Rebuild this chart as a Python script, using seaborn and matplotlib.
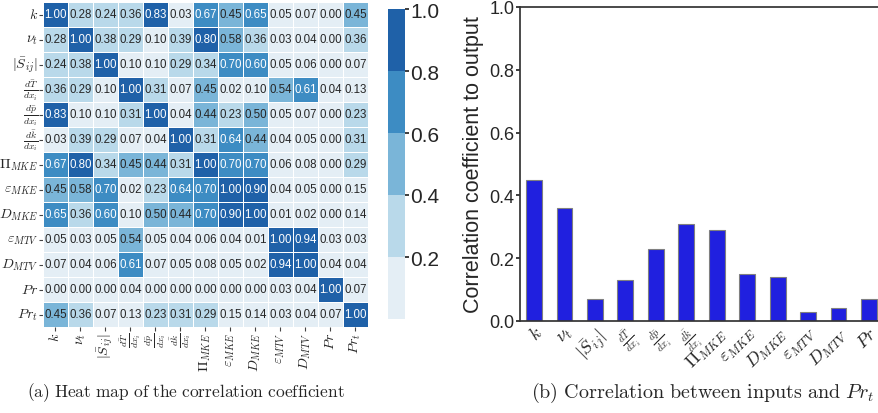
import numpy as np
import pandas as pd
import seaborn as sns
import matplotlib.pyplot as plt
from matplotlib.colors import ListedColormap

# labels of the input features and the output
features = [r'$k$', r'$\nu_t$', r'$|\bar{S}_{ij}|$', r'$\frac{d\bar{T}}{dx_i}$',
            r'$\frac{d\bar{p}}{dx_i}$', r'$\frac{d\bar{k}}{dx_i}$', r'$\Pi_{MKE}$',
            r'$\varepsilon_{MKE}$', r'$D_{MKE}$', r'$\varepsilon_{MTV}$', r'$D_{MTV}$',
            r'$Pr$', r'$Pr_t$']

# correlation matrix read row by row
corr_rows = [
    [1.00, 0.28, 0.24, 0.36, 0.83, 0.03, 0.67, 0.45, 0.65, 0.05, 0.07, 0.00, 0.45],
    [0.28, 1.00, 0.38, 0.29, 0.10, 0.39, 0.80, 0.58, 0.36, 0.03, 0.04, 0.00, 0.36],
    [0.24, 0.38, 1.00, 0.10, 0.10, 0.29, 0.34, 0.70, 0.60, 0.05, 0.06, 0.00, 0.07],
    [0.36, 0.29, 0.10, 1.00, 0.31, 0.07, 0.45, 0.02, 0.10, 0.54, 0.61, 0.04, 0.13],
    [0.83, 0.10, 0.10, 0.31, 1.00, 0.04, 0.44, 0.23, 0.50, 0.05, 0.07, 0.00, 0.23],
    [0.03, 0.39, 0.29, 0.07, 0.04, 1.00, 0.31, 0.64, 0.44, 0.04, 0.05, 0.00, 0.31],
    [0.67, 0.80, 0.34, 0.45, 0.44, 0.31, 1.00, 0.70, 0.70, 0.06, 0.08, 0.00, 0.29],
    [0.45, 0.58, 0.70, 0.02, 0.23, 0.64, 0.70, 1.00, 0.90, 0.04, 0.05, 0.00, 0.15],
    [0.65, 0.36, 0.60, 0.10, 0.50, 0.44, 0.70, 0.90, 1.00, 0.01, 0.02, 0.00, 0.14],
    [0.05, 0.03, 0.05, 0.54, 0.05, 0.04, 0.06, 0.04, 0.01, 1.00, 0.94, 0.03, 0.03],
    [0.07, 0.04, 0.06, 0.61, 0.07, 0.05, 0.08, 0.05, 0.02, 0.94, 1.00, 0.04, 0.04],
    [0.00, 0.00, 0.00, 0.04, 0.00, 0.00, 0.00, 0.00, 0.00, 0.03, 0.04, 1.00, 0.07],
    [0.45, 0.36, 0.07, 0.13, 0.23, 0.31, 0.29, 0.15, 0.14, 0.03, 0.04, 0.07, 1.00],
]

# correlation of each input with Pr_t (last row without itself)
bar_labels = features[:-1]
bar_values = corr_rows[-1][:-1]

# 5 discrete blues for the heat map
blues = ['#e4eef5', '#b9d9ea', '#7ab5d8', '#3d8cc3', '#1f61a8']

sns.set_theme(style='ticks')
plt.rcParams['font.family'] = ['Liberation Sans', 'DejaVu Sans']
plt.rcParams['mathtext.fontset'] = 'cm'

fig = plt.figure(figsize=(8.79, 4.14), dpi=100)
W, H = 879, 414
ax1 = fig.add_axes([43 / W, 1 - 328 / H, 325 / W, 325 / H])
cax = fig.add_axes([388 / W, 1 - 320 / H, 17 / W, 310 / H])
ax2 = fig.add_axes([520 / W, 1 - 322 / H, 363 / W, 314 / H])


def shrink_fracs(labels, size):
    # fraction labels are much taller, draw them smaller
    for t in labels:
        if r'\frac' in t.get_text():
            t.set_fontsize(size)


# (a) heat map
df = pd.DataFrame(corr_rows, index=features, columns=features)
sns.heatmap(df, ax=ax1, cbar_ax=cax, cmap=ListedColormap(blues), vmin=0, vmax=1,
            annot=True, fmt='.2f', annot_kws={'size': 8.3},
            linewidths=0.6, linecolor='white')
ax1.tick_params(axis='both', labelsize=10.2, length=3, width=0.8, color='#444444', pad=0.5)
ax1.set_yticklabels(features, rotation=0)
ax1.set_xticklabels(features, rotation=90)
shrink_fracs(ax1.get_yticklabels(), 10)
shrink_fracs(ax1.get_xticklabels(), 10)
cbar = ax1.collections[0].colorbar
cbar.set_ticks([0.2, 0.4, 0.6, 0.8, 1.0])
cbar.outline.set_visible(False)
cax.tick_params(labelsize=15, length=3, pad=1)

# (b) bars
sns.barplot(x=bar_labels, y=bar_values, color='blue', edgecolor='gray',
            linewidth=0.8, width=0.52, ax=ax2)
ax2.set_ylim(0, 1)
ax2.set_xlim(-0.46, 11.46)
ax2.set_yticks([0, 0.2, 0.4, 0.6, 0.8, 1.0])
ax2.set_yticklabels(['0.0', '0.2', '0.4', '0.6', '0.8', '1.0'])
ax2.set_ylabel('Correlation coefficient to output', fontsize=15.5, labelpad=4)
ax2.tick_params(axis='y', labelsize=13, length=3, pad=1)
ax2.tick_params(axis='x', length=0, pad=2)
plt.setp(ax2.get_xticklabels(), rotation=45, ha='right', rotation_mode='anchor', fontsize=13)
shrink_fracs(ax2.get_xticklabels(), 10.5)
for s in ax2.spines.values():
    s.set_color('#333333')

# captions
fig.text(186 / W, 1 - 393 / H, r'$\mathrm{(a)\ Heat\ map\ of\ the\ correlation\ coefficient}$',
         ha='center', va='center', fontsize=12.5)
fig.text(703 / W, 1 - 393 / H, r'$\mathrm{(b)\ Correlation\ between\ inputs\ and\ }Pr_t$',
         ha='center', va='center', fontsize=14.5)

fig.savefig('out.png', dpi=100)
